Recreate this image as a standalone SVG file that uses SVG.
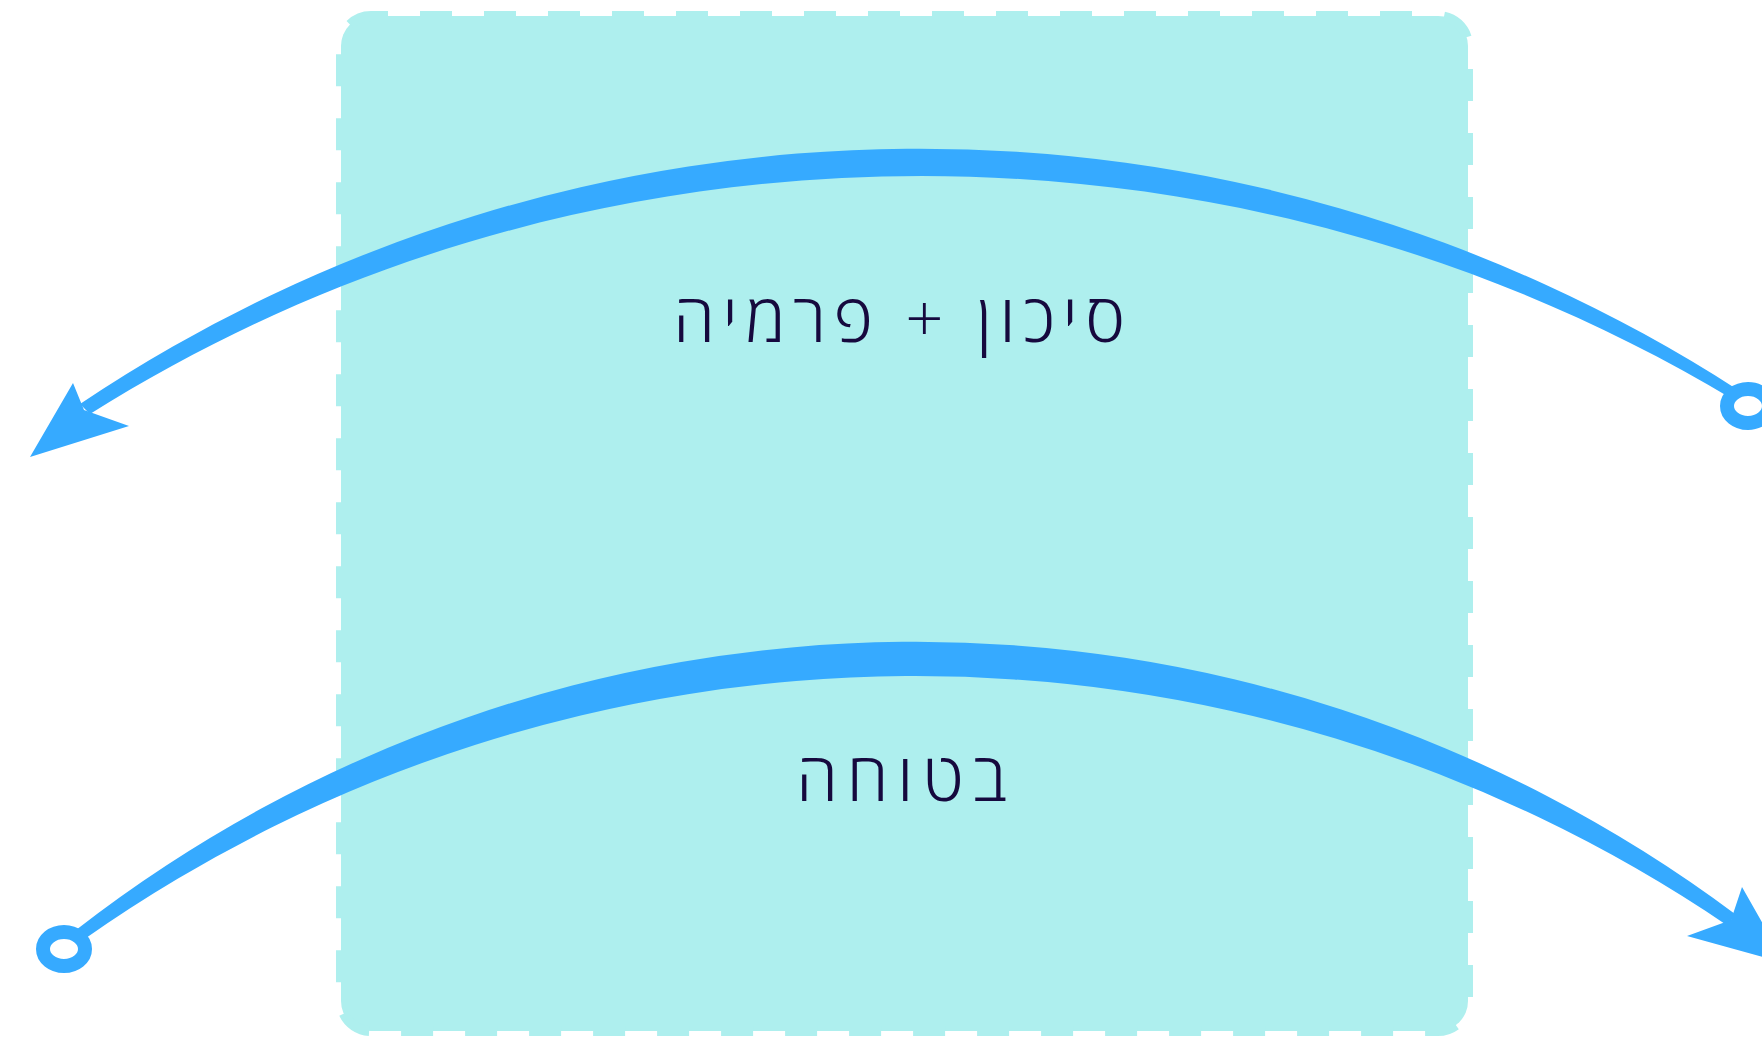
<svg xmlns="http://www.w3.org/2000/svg" width="1762" height="1037" viewBox="0 0 1762 1037">
<style>
.box{fill:#AEEFEE;stroke:#AEEFEE;stroke-width:10;stroke-dasharray:32 32;stroke-dashoffset:15}
.lbl{font-family:"Open Sans","DejaVu Sans",sans-serif;font-weight:300;font-size:67px;letter-spacing:9px;fill:#16093E;text-anchor:middle}
.flow{fill:#36AAFF;stroke:none}
.ring{fill:none;stroke:#36AAFF;stroke-width:14}
</style>
<rect width="1762" height="1037" fill="#FFFFFF"/>
<g id="node-box">
<rect class="box" x="341" y="16" width="1127" height="1015" rx="30" ry="30"/>
</g>
<g id="node-risk">
<text class="lbl" x="903" y="342" style="letter-spacing:7.6px">סיכון + פרמיה</text>
</g>
<g id="node-security">
<text class="lbl" x="906" y="801">בטוחה</text>
</g>
<g id="connectors">
<g id="edge-top">
<path class="flow" d="M80,404 A1508,1508 0 0 1 1738,390 L1734,400 C1234,99 590,99 90,414 Z"/>
<polygon class="flow" points="30,457 73,383 84,410 129,426"/>
<ellipse class="ring" cx="1748" cy="406" rx="21" ry="17"/>
</g>
<g id="edge-bottom">
<path class="flow" d="M76,930 A1368,1368 0 0 1 1735,914 L1728,926 A1445,1445 0 0 0 86,938 Z"/>
<polygon class="flow" points="1785,963 1742,887 1731,920 1687,936"/>
<ellipse class="ring" cx="64" cy="949" rx="21" ry="17"/>
</g>
</g>
</svg>
